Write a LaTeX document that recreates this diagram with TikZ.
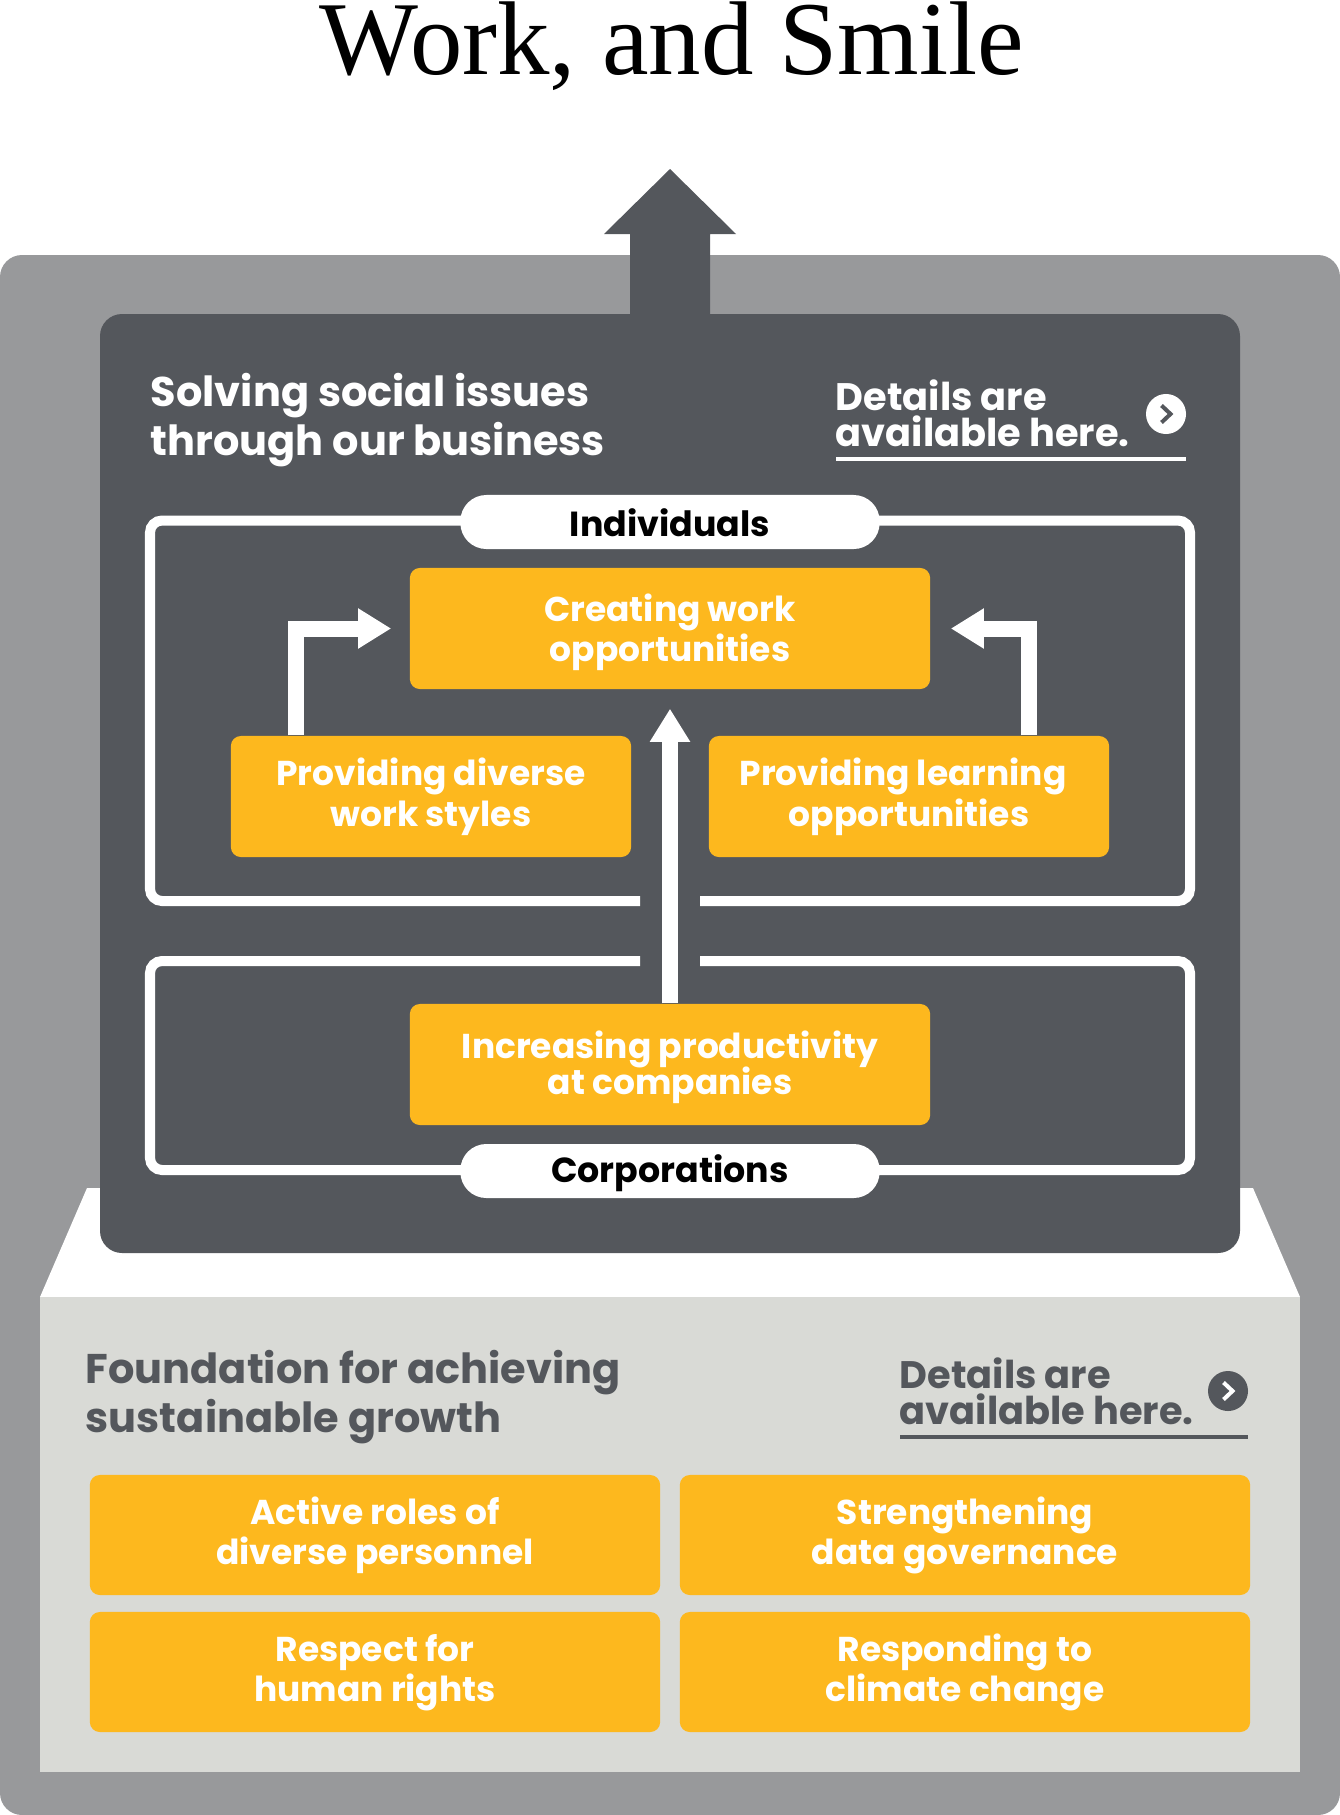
\documentclass[tikz,border=0pt]{standalone}
\usepackage{fontspec}
\setmainfont{Liberation Serif}
\setsansfont{Poppins}
\usetikzlibrary{arrows.meta}
\definecolor{shellgray}{HTML}{98999B}
\definecolor{slate}{HTML}{54575C}
\definecolor{paper}{HTML}{D9DAD6}
\definecolor{amber}{HTML}{FDB81E}

\begin{document}
\begin{tikzpicture}[
  x=0.01cm,y=-0.01cm,
  font=\sffamily\bfseries,
  textdrop/.style={execute at begin node={\lineskiplimit=-10pt\relax\rule{0pt}{#1}}},
  frameline/.style={line width=0.1cm,draw=white,rounded corners=0.12cm},
  flowarrow/.style={line width=0.16cm,draw=white,-{Triangle[length=0.33cm,width=0.38cm]}},
  amberbox/.style={fill=amber,text=white,rounded corners=0.1cm,align=center,inner sep=0pt,textdrop=19.6pt,
    font=\sffamily\bfseries\fontsize{9.8}{11.5}\selectfont},
  widebox/.style={amberbox,minimum width=5.2cm,minimum height=1.21cm},
  sidebox/.style={amberbox,minimum width=4.0cm,minimum height=1.21cm},
  basebox/.style={amberbox,minimum width=5.7cm,minimum height=1.2cm},
  pill/.style={fill=white,text=black,rounded corners=0.26cm,minimum width=4.19cm,minimum height=0.54cm,
    inner sep=0pt,font=\sffamily\bfseries\fontsize{9.9}{11}\selectfont},
  headtxt/.style={anchor=west,align=left,inner sep=0pt,font=\sffamily\bfseries\fontsize{11.8}{13.9}\selectfont},
  detailtxt/.style={anchor=west,align=left,inner sep=0pt,font=\sffamily\bfseries\fontsize{10.9}{10.3}\selectfont},
  chevron/.style={line width=0.04cm,line join=miter},
  dot/.style={circle,inner sep=0pt,minimum size=0.4cm}
]
\useasboundingbox (0,0) rectangle (1340,1815);

% ---- title ----
\node[anchor=base,inner sep=0pt,font=\rmfamily\fontsize{29.8}{32}\selectfont] (title) at (672,74) {Work, and Smile};

% ---- outer shell and foundation ----
\fill[shellgray,rounded corners=0.22cm] (0,255) rectangle (1340,1815);
\fill[white] (87,1188) -- (1253,1188) -- (1300,1297) -- (40,1297) -- cycle;
\fill[paper] (40,1297) rectangle (1300,1772);

% ---- business panel with its arrow ----
\fill[slate,rounded corners=0.22cm] (100,314) rectangle (1240,1253);
\fill[slate] (630,320) -- (630,234) -- (604,234) -- (670,169) -- (736,234) -- (710,234) -- (710,320) -- cycle;

\node[headtxt,text=white] (solving) at (150,420) {Solving social issues\\through our business};
\node[detailtxt,text=white] (detailsA) at (835,413) {Details are\\available here.};
\node[dot,fill=white] (dotA) at (1166,414) {};
\draw[chevron,slate] ([xshift=-0.045cm,yshift=0.085cm]dotA.center) -- ([xshift=0.045cm]dotA.center) -- ([xshift=-0.045cm,yshift=-0.085cm]dotA.center);
\draw[white,line width=0.035cm] (836,459) -- (1186,459);

% ---- individuals and corporations frames ----
\draw[frameline] (640,901) -- (150,901) -- (150,520.5) -- (1190,520.5) -- (1190,901) -- (700,901);
\draw[frameline] (640,961) -- (150,961) -- (150,1170) -- (1190,1170) -- (1190,961) -- (700,961);
\node[pill,textdrop=8.5pt] (individuals) at (670,522) {Individuals};
\node[pill,textdrop=9pt] (corporations) at (670,1171) {Corporations};

% ---- the four boxes ----
\node[widebox,textdrop=21.5pt] (creating) at (670,628.5) {Creating work\\opportunities};
\node[sidebox] (diverse) at (431,796.5) {Providing diverse\\work styles};
\node[sidebox] (learning) at (909,796.5) {Providing learning\hspace*{0.12cm}\\opportunities};
\node[widebox,textdrop=19.7pt,font=\sffamily\bfseries\fontsize{9.8}{10.3}\selectfont] (increasing) at (670,1064.5) {Increasing productivity\\at companies};

\draw[flowarrow,shorten >=0.18cm] ([xshift=0.66cm]diverse.north west) |- (creating.west);
\draw[flowarrow,shorten >=0.2cm] ([xshift=-0.81cm]learning.north east) |- (creating.east);
\draw[flowarrow,shorten >=0.19cm] (increasing.north) -- (creating.south);

% ---- foundation ----
\node[headtxt,text=slate] (foundation) at (85,1397) {Foundation for achieving\\sustainable growth};
\node[detailtxt,text=slate] (detailsB) at (899,1391) {Details are\\available here.};
\node[dot,fill=slate] (dotB) at (1228,1391) {};
\draw[chevron,white] ([xshift=-0.045cm,yshift=0.085cm]dotB.center) -- ([xshift=0.045cm]dotB.center) -- ([xshift=-0.045cm,yshift=-0.085cm]dotB.center);
\draw[slate,line width=0.035cm] (900,1437) -- (1248,1437);

\node[basebox] (roles) at (375,1535) {Active roles of\\diverse personnel};
\node[basebox] (data) at (965,1535) {Strengthening\\data governance};
\node[basebox] (rights) at (375,1672) {Respect for\\human rights};
\node[basebox] (climate) at (965,1672) {Responding to\\climate change};

\end{tikzpicture}
\end{document}
